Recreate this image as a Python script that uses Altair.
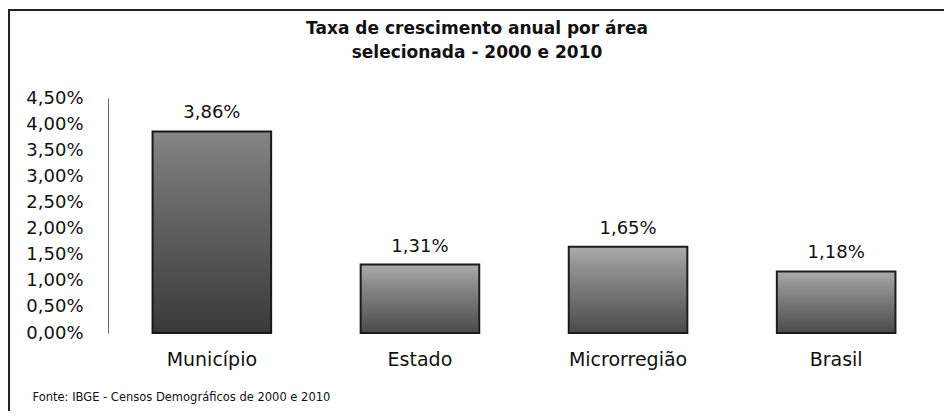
import altair as alt
import pandas as pd

areas = ["Município", "Estado", "Microrregião", "Brasil"]
taxas = [3.86, 1.31, 1.65, 1.18]
y_ticks = [0, 0.5, 1.0, 1.5, 2.0, 2.5, 3.0, 3.5, 4.0, 4.5]
titulo = ["Taxa de crescimento anual por área", "selecionada - 2000 e 2010"]
fonte = "Fonte: IBGE - Censos Demográficos de 2000 e 2010"

df = pd.DataFrame({"area": areas, "taxa": taxas})
df["rotulo"] = [f"{v:.2f}".replace(".", ",") + "%" for v in taxas]

FONT = "DejaVu Sans"

x = alt.X(
    "area:N",
    sort=areas,
    scale=alt.Scale(paddingInner=0.43, paddingOuter=0.214),
    axis=alt.Axis(
        title=fonte, labelAngle=0, labelFontSize=19, labelFont=FONT, labelColor="#111",
        labelPadding=17, domain=False, ticks=False, tickSize=0,
        titleFontSize=11.5, titleFont=FONT, titleFontWeight="normal", titleColor="#111",
        titleAnchor="start", titleAlign="left", titleX=-76, titleY=64, titleBaseline="middle",
    ),
)
y = alt.Y(
    "taxa:Q",
    scale=alt.Scale(domain=[0, 4.5], nice=False),
    axis=alt.Axis(
        title=None, values=y_ticks, grid=False, ticks=False, tickSize=0,
        domain=True, domainColor="#666", domainWidth=1,
        labelAlign="right", labelPadding=25, labelFontSize=18, labelFont=FONT, labelColor="#111",
        labelExpr="replace(format(datum.value, '.2f'), '.', ',') + '%'",
    ),
)

grad = alt.Gradient(
    gradient="linear",
    stops=[
        alt.GradientStop(color="#ababab", offset=0),
        alt.GradientStop(color="#8a8a8a", offset=0.3),
        alt.GradientStop(color="#4a4a4a", offset=1),
    ],
    x1=0, x2=0, y1=0, y2=1,
)

base = alt.Chart(df)

bars = base.mark_bar(color=grad, stroke="#1c1c1c", strokeWidth=2).encode(x=x, y=y)
shade = base.mark_bar(color="#000000").encode(
    x=x, y=y,
    opacity=alt.condition("datum.area == 'Município'", alt.value(0.22), alt.value(0)),
)
labels = base.mark_text(dy=-13, baseline="alphabetic", fontSize=18, font=FONT, color="#111").encode(
    x=x, y=y, text="rotulo:N"
)
frame = base.mark_rect(fillOpacity=0, stroke="#222", strokeWidth=2).encode(
    x=alt.value(-99), x2=alt.value(839), y=alt.value(-88), y2=alt.value(400)
)

chart = alt.layer(frame, bars, shade, labels).properties(
    width=832,
    height=235,
    background="white",
    autosize=alt.AutoSizeParams(type="none"),
    padding={"left": 100, "top": 90, "right": 4, "bottom": 78},
    title=alt.TitleParams(
        text=titulo, fontSize=17, font=FONT, fontWeight="bold", color="#111",
        anchor="middle", frame="group", dx=-47, offset=-53, lineHeight=24,
    ),
).configure_view(stroke=None)

chart.save("out.html", embed_options={"renderer": "svg", "actions": False})
